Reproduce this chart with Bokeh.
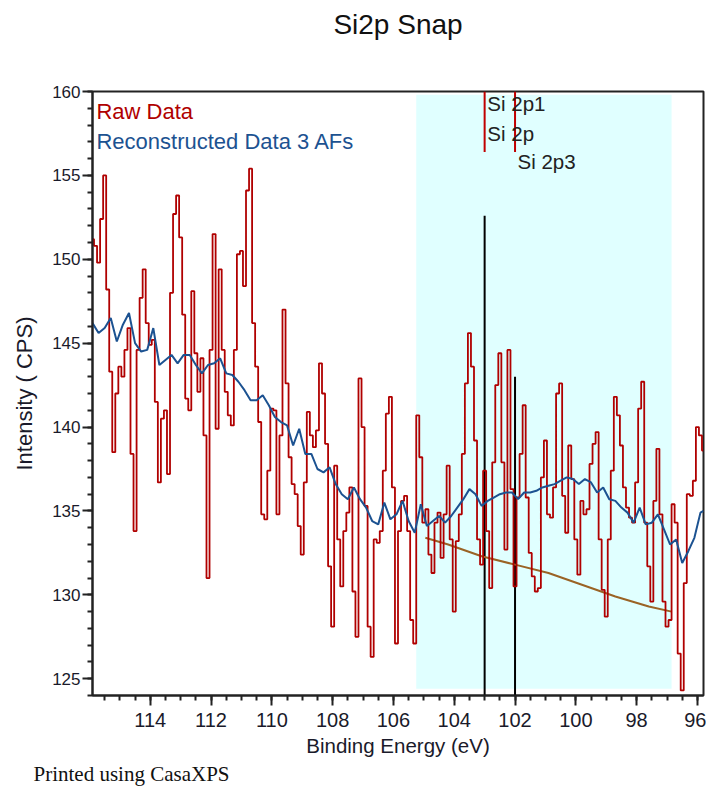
from bokeh.plotting import figure
from bokeh.models import Range1d, SingleIntervalTicker, Label, Title
from bokeh.embed import file_html
from bokeh.resources import INLINE
import numpy as np

# ---------------- data ----------------
raw_start_ev = 115.9
raw_step_ev = -0.1
raw_cps = [
    151.2, 150.8, 149.8, 152.4, 155.0, 148.2, 143.3, 138.5, 142.0, 143.6,
    143.0, 144.6, 145.9, 138.4, 133.8, 144.6, 147.7, 149.4, 146.2, 144.9,
    145.2, 141.5, 136.7, 140.5, 141.0, 137.2, 148.0, 152.7, 153.8, 151.3,
    146.7, 141.7, 141.0, 148.1, 144.4, 142.1, 144.1, 139.5, 131.0, 144.6,
    151.5, 139.9, 149.4, 144.6, 142.1, 140.7, 140.1, 144.6, 150.3, 150.5,
    148.4, 154.1, 155.4, 146.2, 143.6, 140.3, 134.8, 134.5, 137.4, 141.1,
    141.0, 134.8, 139.5, 147.0, 142.6, 138.2, 136.6, 136.0, 134.1, 132.4,
    136.7, 140.9, 139.5, 138.8, 139.8, 143.8, 142.0, 139.0, 131.7, 128.1,
    137.7, 133.3, 130.5, 133.8, 134.9, 136.4, 130.2, 127.5, 142.9, 140.0,
    135.3, 128.1, 126.3, 133.3, 133.1, 133.8, 137.4, 140.8, 141.8, 136.4,
    127.1, 133.8, 135.6, 135.9, 133.8, 128.5, 127.1, 140.7, 138.2, 134.3,
    135.1, 132.4, 131.3, 134.3, 134.9, 132.2, 134.8, 137.7, 133.3, 129.0,
    133.2, 134.8, 138.4, 142.6, 145.6, 143.6, 139.2, 133.3, 131.8, 137.4,
    133.8, 130.4, 137.9, 142.5, 144.4, 137.9, 132.7, 144.6, 136.3, 130.5,
    135.8, 138.4, 141.3, 135.8, 132.5, 131.1, 130.2, 130.4, 137.0, 139.2,
    134.8, 134.6, 136.4, 142.0, 142.6, 135.9, 133.7, 138.9, 136.9, 133.3,
    131.2, 135.6, 134.8, 135.1, 137.8, 139.0, 139.7, 133.3, 130.3, 128.7,
    133.3, 137.4, 141.8, 140.7, 138.9, 136.4, 135.2, 134.6, 134.3, 136.7,
    141.1, 142.7, 134.3, 131.7, 129.6, 135.6, 138.7, 134.8, 129.6, 128.1,
    128.5, 135.4, 134.3, 126.5, 124.3, 130.7, 136.0, 135.9, 136.8, 140.0,
    139.5, 138.6,
]

recon_ev = [
    115.9, 115.7, 115.5, 115.3, 115.1, 114.9, 114.7, 114.5, 114.3, 114.1,
    113.9, 113.7, 113.5, 113.3, 113.1, 112.9, 112.7, 112.5, 112.3, 112.1,
    111.9, 111.7, 111.5, 111.3, 111.1, 110.9, 110.7, 110.5, 110.3, 110.1,
    109.9, 109.7, 109.5, 109.3, 109.1, 108.9, 108.7, 108.5, 108.3, 108.1,
    107.9, 107.7, 107.5, 107.3, 107.1, 106.9, 106.7, 106.5, 106.3, 106.1,
    105.9, 105.7, 105.5, 105.3, 105.1, 104.9, 104.7, 104.5, 104.3, 104.1,
    103.9, 103.7, 103.5, 103.3, 103.1, 102.9, 102.7, 102.5, 102.3, 102.1,
    101.9, 101.7, 101.5, 101.3, 101.1, 100.9, 100.7, 100.5, 100.3, 100.1,
    99.9, 99.7, 99.5, 99.3, 99.1, 98.9, 98.7, 98.5, 98.3, 98.1,
    97.9, 97.7, 97.5, 97.3, 97.1, 96.9, 96.7, 96.5, 96.3, 96.1,
    95.9, 95.8,
]
recon_cps = [
    146.2, 145.6, 145.9, 146.5, 145.1, 146.1, 146.8, 145.0, 144.5, 144.6,
    145.9, 143.7, 144.0, 144.3, 143.8, 144.3, 144.3, 143.7, 143.2, 143.7,
    143.8, 144.1, 143.2, 143.1, 142.7, 142.2, 141.6, 141.6, 141.9, 141.3,
    140.6, 140.3, 140.1, 138.9, 139.9, 138.4, 138.4, 137.5, 137.3, 137.6,
    136.6, 136.0, 135.7, 136.4, 135.7, 135.2, 134.4, 134.2, 135.5, 134.5,
    134.8, 135.6, 134.4, 133.7, 135.4, 134.1, 134.4, 134.7, 134.3, 134.7,
    135.2, 135.7, 136.3, 136.0, 135.3, 135.6, 135.8, 136.0, 136.1, 136.1,
    135.7, 136.1, 136.1, 136.2, 136.4, 136.5, 136.6, 136.8, 137.0, 136.9,
    136.6, 136.9, 136.7, 136.1, 136.4, 135.7, 135.6, 135.2, 134.9, 134.3,
    135.2, 134.2, 134.3, 134.8, 133.9, 133.0, 133.3, 131.9, 132.6, 133.4,
    134.9, 135.0,
]

bg_ev = [104.95, 104.2, 103.1, 102.0, 100.9, 99.8, 98.7, 97.6, 96.85]
bg_cps = [133.4, 133.0, 132.3, 131.8, 131.3, 130.6, 129.9, 129.3, 129.0]

region_ev = [105.25, 96.85]          # quantification region (high, low)
region_cps = [124.4, 159.8]          # shaded extent (bottom, top)

comp_names = ["Si 2p1", "Si 2p", "Si 2p3"]
comp_label_ev = [102.91, 102.91, 101.92]
comp_label_cps = [159.3, 157.5, 155.85]
marker_ev = [103.0, 102.0]
marker_top = [160.0, 160.0]
marker_bottom = [156.4, 156.4]
comp_line_ev = [103.0, 102.0]
comp_line_top = [152.6, 143.0]

legend_names = ["Raw Data", "Reconstructed Data 3 AFs"]
legend_colors = ["#b00000", "#1c5291"]
legend_ev = 115.77
legend_cps = [158.8, 157.0]

title_text = "Si2p Snap"
footer_text = "Printed using CasaXPS"

x_lo, x_hi = 95.8, 115.9
y_lo, y_hi = 124.0, 160.0

# ---------------- figure ----------------
FONT = "Liberation Sans"

p = figure(width=706, height=786, output_backend="svg", toolbar_location=None, title=None,
           x_range=Range1d(x_hi, x_lo), y_range=Range1d(y_lo, y_hi),
           min_border_left=92, min_border_right=3, min_border_top=91, min_border_bottom=89,
           background_fill_color="white", border_fill_color="white")

# spacer between frame and title, then the title itself
p.add_layout(Title(text=" ", text_font_size="2px", standoff=46), "above")
p.add_layout(Title(text=title_text, align="center", text_font=FONT, text_font_size="28px",
                   text_font_style="normal", text_color="#111111", standoff=4), "above")

p.outline_line_color = "#222222"
p.outline_line_width = 2
p.xgrid.visible = False
p.ygrid.visible = False

raw_ev = np.round(raw_start_ev + raw_step_ev * np.arange(len(raw_cps)), 2)

# shaded region
p.quad(left=[region_ev[0]], right=[region_ev[1]], bottom=[region_cps[0]], top=[region_cps[1]],
       fill_color="#e0ffff", line_color=None)

# component lines
p.segment(x0=comp_line_ev, x1=comp_line_ev, y0=[y_lo] * len(comp_line_ev), y1=comp_line_top,
          line_color="black", line_width=2)

# background
p.line(bg_ev, bg_cps, line_color="#9a6325", line_width=2)

# raw data
p.step(raw_ev, raw_cps, mode="center", line_color="#b00000", line_width=1.8)

# reconstructed
p.line(recon_ev, recon_cps, line_color="#1c5291", line_width=2)

# component markers at top
p.segment(x0=marker_ev, x1=marker_ev, y0=marker_bottom, y1=marker_top,
          line_color="#c00000", line_width=2)

for name, ex, ey in zip(comp_names, comp_label_ev, comp_label_cps):
    p.add_layout(Label(x=ex, y=ey, text=name, text_font=FONT, text_font_size="20.5px",
                       text_color="#222222", text_baseline="middle", text_align="left"))

for name, col, ey in zip(legend_names, legend_colors, legend_cps):
    p.add_layout(Label(x=legend_ev, y=ey, text=name, text_font=FONT, text_font_size="22px",
                       text_color=col, text_baseline="middle", text_align="left"))

# axes
for ax in (p.xaxis[0], p.yaxis[0]):
    ax.axis_line_width = 2
    ax.axis_line_color = "#222222"
    ax.major_tick_line_width = 2
    ax.minor_tick_line_width = 2
    ax.major_tick_line_color = "#222222"
    ax.minor_tick_line_color = "#222222"
    ax.major_tick_in = 0
    ax.minor_tick_in = 0
    ax.major_tick_out = 10
    ax.minor_tick_out = 5
    ax.major_label_text_font = FONT
    ax.major_label_text_color = "#1a1a2a"
    ax.axis_label_text_font = FONT
    ax.axis_label_text_font_style = "normal"
    ax.axis_label_text_color = "#1a1a2a"

p.xaxis.major_label_text_font_size = "20px"
p.yaxis.major_label_text_font_size = "17px"
p.xaxis.axis_label_text_font_size = "20.5px"
p.yaxis.axis_label_text_font_size = "22px"

p.xaxis.ticker = SingleIntervalTicker(interval=2, num_minor_ticks=4)
p.yaxis.ticker = SingleIntervalTicker(interval=5, num_minor_ticks=5)
p.xaxis.axis_label = "Binding Energy (eV)"
p.yaxis.axis_label = "Intensity ( CPS)"
p.xaxis.major_label_standoff = 7
p.xaxis.axis_label_standoff = 4
p.yaxis.major_label_standoff = 2
p.yaxis.axis_label_standoff = 12

footer = Title(text=footer_text, align="left", text_font="Liberation Serif",
               text_font_size="21px", text_font_style="normal", text_color="#111111",
               offset=-59, standoff=1)
p.add_layout(footer, "below")

open("out.html", "w").write(file_html(p, INLINE))
